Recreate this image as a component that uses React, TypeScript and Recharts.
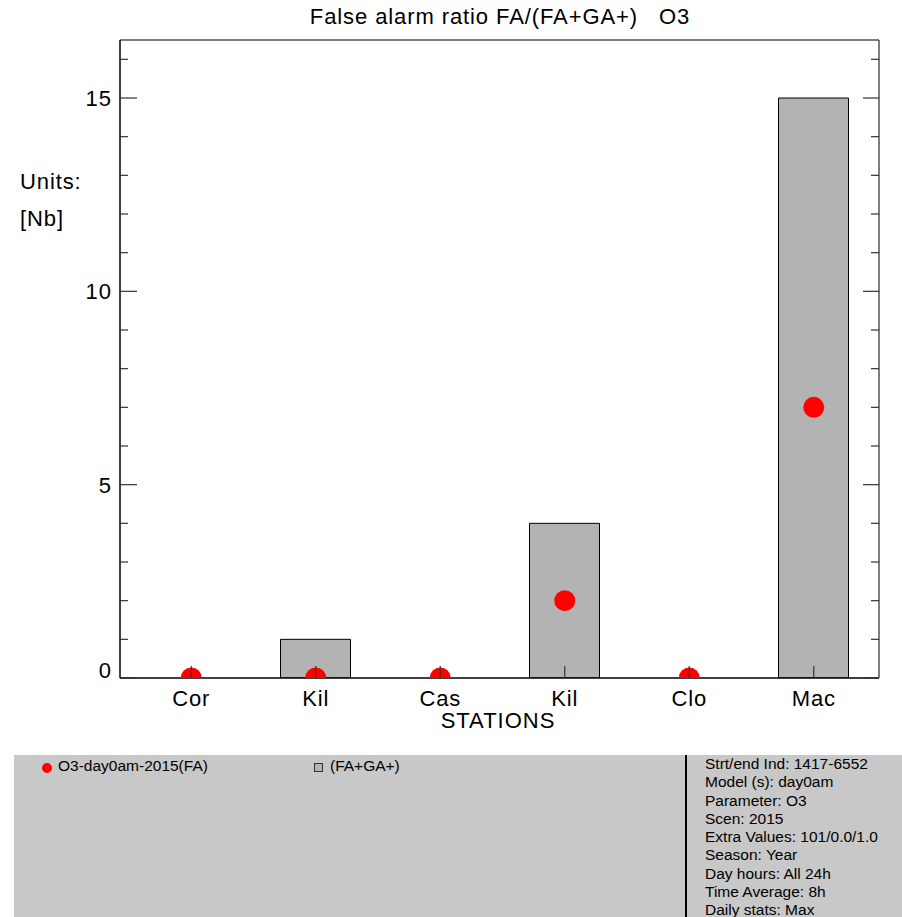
import React from "react";
import { ComposedChart, Bar, Line, XAxis, YAxis, ReferenceLine } from "recharts";

const stations = ["Cor", "Kil", "Cas", "Kil", "Clo", "Mac"];
const faValues = [0, 0, 0, 2, 0, 7];
const totalValues = [0, 1, 0, 4, 0, 15];
const yTicks = [0, 1, 2, 3, 4, 5, 6, 7, 8, 9, 10, 11, 12, 13, 14, 15, 16];
const yLabels = [0, 5, 10, 15];
const infoLines = [
  "Strt/end Ind: 1417-6552",
  "Model (s): day0am",
  "Parameter: O3",
  "Scen: 2015",
  "Extra Values: 101/0.0/1.0",
  "Season: Year",
  "Day hours: All 24h",
  "Time Average: 8h",
  "Daily stats: Max",
];

const data = stations.map((s, i) => ({ name: s, fa: faValues[i], total: totalValues[i] }));

const FONT = "'Liberation Sans', Arial, sans-serif";
const NARROW = "'Liberation Sans Narrow', 'Liberation Sans', Arial, sans-serif";

const LeftTick = (props: any) => {
  const { x, y, payload } = props;
  const v = payload.value;
  const major = v % 5 === 0;
  return (
    <g>
      <line x1={x} y1={y} x2={x + (major ? 17 : 8)} y2={y} stroke="#333" strokeWidth={1.2} />
      {yLabels.includes(v) && (
        <text x={x - 8} y={y + 8 - (v === 0 ? 8 : 0)} textAnchor="end" fontSize={22} letterSpacing={1} fill="#000" fontFamily={FONT}>
          {v}
        </text>
      )}
    </g>
  );
};

const RightTick = (props: any) => {
  const { x, y, payload } = props;
  const major = payload.value % 5 === 0;
  return <line x1={x} y1={y} x2={x - (major ? 16 : 8)} y2={y} stroke="#333" strokeWidth={1.2} />;
};

const BottomTick = (props: any) => {
  const { x, y, payload } = props;
  return (
    <g>
      <line x1={x} y1={y} x2={x} y2={y - 12} stroke="#333" strokeWidth={1.2} />
      <text x={x} y={y + 28} textAnchor="middle" fontSize={22} letterSpacing={0.8} fill="#000" fontFamily={FONT}>
        {payload.value}
      </text>
    </g>
  );
};

const RedDot = (props: any) => {
  const { cx, cy } = props;
  if (cx == null || cy == null) return null;
  return <circle cx={cx} cy={cy} r={10.5} fill="#ff0000" stroke="none" />;
};

export default function App() {
  return (
    <div style={{ position: "absolute", left: 0, top: 0, width: 902, height: 917, background: "#fff", fontFamily: FONT, overflow: "hidden" }}>
      <div style={{ position: "absolute", left: 0, width: 1000, top: 4, textAlign: "center", fontSize: 22, letterSpacing: 0.9, whiteSpace: "pre" }}>
        {"False alarm ratio FA/(FA+GA+)   O3"}
      </div>
      <div style={{ position: "absolute", left: 20, top: 169, fontSize: 22, letterSpacing: 0.9 }}>Units:</div>
      <div style={{ position: "absolute", left: 20, top: 206, fontSize: 22, letterSpacing: 0.9 }}>[Nb]</div>
      <div style={{ position: "absolute", left: 0, width: 996, top: 708, textAlign: "center", fontSize: 22, letterSpacing: 1 }}>STATIONS</div>

      <div style={{ position: "absolute", left: 0, top: 0 }}>
        <ComposedChart width={902} height={745} data={data} margin={{ top: 40, right: 0, bottom: 0, left: 0 }} barSize={70}>
          <XAxis
            dataKey="name"
            height={67}
            padding={{ left: 9, right: 3 }}
            tickSize={0}
            tickMargin={0}
            tickLine={false}
            interval={0}
            axisLine={{ stroke: "#000", strokeWidth: 1.5 }}
            tick={<BottomTick />}
          />
          <YAxis
            width={120}
            domain={[0, 16.5]}
            allowDataOverflow
            ticks={yTicks}
            interval={0}
            tickSize={0}
            tickMargin={0}
            tickLine={false}
            axisLine={{ stroke: "#000", strokeWidth: 1.5 }}
            tick={<LeftTick />}
          />
          <YAxis
            yAxisId="r"
            orientation="right"
            width={23}
            domain={[0, 16.5]}
            allowDataOverflow
            ticks={yTicks}
            interval={0}
            tickSize={0}
            tickMargin={0}
            tickLine={false}
            axisLine={{ stroke: "#555", strokeWidth: 1.5 }}
            tick={<RightTick />}
          />
          <ReferenceLine y={16.5} stroke="#555" strokeWidth={1.5} />
          <Bar dataKey="total" fill="#b3b3b3" stroke="#000" strokeWidth={1} isAnimationActive={false} />
          <Line dataKey="fa" stroke="none" dot={<RedDot />} activeDot={false} isAnimationActive={false} />
        </ComposedChart>
      </div>

      <div style={{ position: "absolute", left: 14, top: 755, width: 888, height: 162, background: "#c8c8c8", fontFamily: NARROW, fontSize: 15.5 }}>
        <div style={{ position: "absolute", left: 28, top: 8, width: 10, height: 10, borderRadius: 5, background: "#ff0000" }} />
        <div style={{ position: "absolute", left: 44, top: 2 }}>O3-day0am-2015(FA)</div>
        <div style={{ position: "absolute", left: 300, top: 8, width: 7, height: 7, border: "1px solid #333", background: "#b3b3b3" }} />
        <div style={{ position: "absolute", left: 316, top: 2 }}>(FA+GA+)</div>
        <div style={{ position: "absolute", left: 671, top: 0, width: 2, height: 162, background: "#000" }} />
        <div style={{ position: "absolute", left: 691, top: 0 }}>
          {infoLines.map((l) => (
            <div key={l} style={{ height: 18.3, lineHeight: "18.3px", whiteSpace: "nowrap" }}>{l}</div>
          ))}
        </div>
      </div>
    </div>
  );
}
